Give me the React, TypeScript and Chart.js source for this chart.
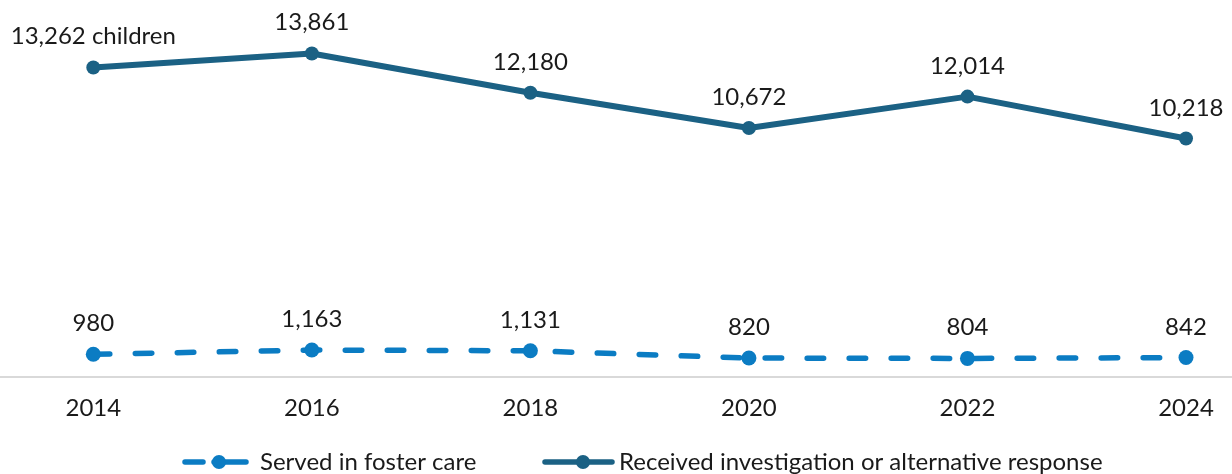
import React, { useEffect, useRef } from "react";
import { Chart, registerables } from "chart.js";

Chart.register(...registerables);

const years = [2014, 2016, 2018, 2020, 2022, 2024];
const fosterCare = [980, 1163, 1131, 820, 804, 842];
const investigation = [13262, 13861, 12180, 10672, 12014, 10218];
const fosterLabels = ["980", "1,163", "1,131", "820", "804", "842"];
const investigationLabels = ["13,262 children", "13,861", "12,180", "10,672", "12,014", "10,218"];
const seriesNames = ["Served in foster care", "Received investigation or alternative response"];

const LIGHT = "#0b7cc3";
const DARK = "#1b6184";
const TEXT = "#1a1a1a";
const FONT = "Lato, 'Noto Sans', sans-serif";

const valueLabels = {
  id: "valueLabels",
  afterDatasetsDraw(chart: any) {
    const ctx = chart.ctx;
    ctx.save();
    ctx.font = `24px ${FONT}`;
    ctx.fillStyle = TEXT;
    ctx.textAlign = "center";
    ctx.textBaseline = "alphabetic";
    chart.data.datasets.forEach((ds: any, i: number) => {
      const meta = chart.getDatasetMeta(i);
      meta.data.forEach((pt: any, j: number) => {
        ctx.fillText(ds.valueLabels[j], pt.x, pt.y - 23);
      });
    });
    ctx.restore();
  },
};

const customLegend = {
  id: "customLegend",
  afterDraw(chart: any) {
    const ctx = chart.ctx;
    const y = 462;
    ctx.save();
    ctx.lineWidth = 5.5;
    ctx.lineCap = "round";
    // foster care symbol
    ctx.strokeStyle = LIGHT;
    ctx.beginPath();
    ctx.moveTo(185, y);
    ctx.lineTo(203, y);
    ctx.moveTo(214, y);
    ctx.lineTo(246, y);
    ctx.stroke();
    ctx.fillStyle = LIGHT;
    ctx.beginPath();
    ctx.arc(219, y, 7, 0, Math.PI * 2);
    ctx.fill();
    // investigation symbol
    ctx.strokeStyle = DARK;
    ctx.beginPath();
    ctx.moveTo(545, y);
    ctx.lineTo(612, y);
    ctx.stroke();
    ctx.fillStyle = DARK;
    ctx.beginPath();
    ctx.arc(583, y, 7, 0, Math.PI * 2);
    ctx.fill();
    // texts
    ctx.font = `24px ${FONT}`;
    ctx.fillStyle = TEXT;
    ctx.textAlign = "left";
    ctx.textBaseline = "alphabetic";
    ctx.fillText(seriesNames[0], 260, 470);
    ctx.fillText(seriesNames[1], 619, 470);
    ctx.restore();
  },
};

export default function App() {
  const canvasRef = useRef<HTMLCanvasElement | null>(null);

  useEffect(() => {
    document.body.style.margin = "0";
    let chart: Chart | null = null;
    let cancelled = false;
    const build = () => {
      if (cancelled || !canvasRef.current) return;
      chart = new Chart(canvasRef.current, {
        type: "line",
        data: {
          datasets: [
            {
              label: seriesNames[0],
              data: years.map((y, i) => ({ x: y, y: fosterCare[i] })),
              borderColor: LIGHT,
              backgroundColor: LIGHT,
              borderWidth: 5.5,
              borderDash: [16.5, 25.5],
              borderCapStyle: "round",
              pointRadius: 7.5,
              pointBorderWidth: 0,
              pointBackgroundColor: LIGHT,
              tension: 0,
              valueLabels: fosterLabels,
            } as any,
            {
              label: seriesNames[1],
              data: years.map((y, i) => ({ x: y, y: investigation[i] })),
              borderColor: DARK,
              backgroundColor: DARK,
              borderWidth: 6,
              borderCapStyle: "round",
              borderJoinStyle: "round",
              pointRadius: 7,
              pointBorderWidth: 0,
              pointBackgroundColor: DARK,
              tension: 0,
              valueLabels: investigationLabels,
            } as any,
          ],
        },
        options: {
          responsive: false,
          animation: false,
          devicePixelRatio: 1,
          layout: { autoPadding: false, padding: { top: 0, left: 0, right: 0, bottom: 34 } },
          plugins: {
            legend: { display: false },
            tooltip: { enabled: false },
          },
          scales: {
            x: {
              type: "linear",
              min: 2013.146,
              max: 2024.421,
              afterBuildTicks: (scale: any) => {
                scale.ticks = years.map((v) => ({ value: v }));
              },
              ticks: {
                font: { size: 24, family: FONT },
                color: TEXT,
                padding: 17,
                autoSkip: false,
                maxRotation: 0,
                callback: (v: any) => String(v),
              },
              grid: { display: false, drawTicks: false },
              border: { display: true, color: "#d9d9d9", width: 2 },
            },
            y: {
              display: false,
              min: 0,
              max: 16150,
            },
          },
        },
        plugins: [valueLabels, customLegend],
      });
    };
    const fonts: any = (document as any).fonts;
    if (fonts && fonts.load) {
      fonts.load(`24px Lato`).then(build, build);
    } else {
      build();
    }
    return () => {
      cancelled = true;
      if (chart) chart.destroy();
    };
  }, []);

  return (
    <div style={{ position: "absolute", left: 0, top: 0, width: 1232, height: 474 }}>
      <canvas ref={canvasRef} width={1232} height={474} style={{ display: "block" }} />
    </div>
  );
}
